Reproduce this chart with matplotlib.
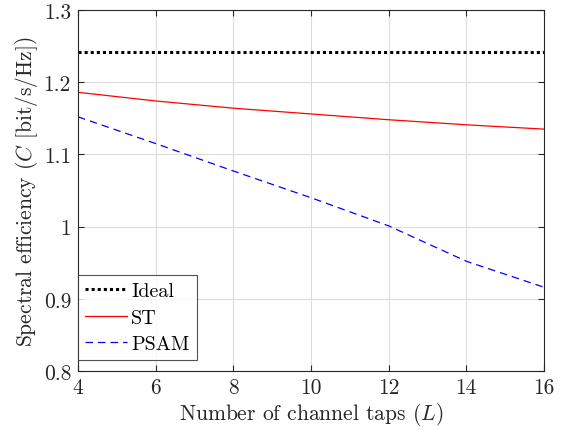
import matplotlib
matplotlib.use("Agg")
import matplotlib.pyplot as plt
from matplotlib.ticker import FuncFormatter

plt.rcParams['font.family'] = 'serif'
plt.rcParams['font.serif'] = ['cmr10', 'DejaVu Serif']
plt.rcParams['mathtext.fontset'] = 'cm'
plt.rcParams['axes.unicode_minus'] = False

L = [4, 6, 8, 10, 12, 14, 16]
ideal = [1.242, 1.242, 1.242, 1.242, 1.242, 1.242, 1.242]
st = [1.186, 1.174, 1.164, 1.156, 1.148, 1.141, 1.135]
psam = [1.152, 1.115, 1.077, 1.040, 1.001, 0.952, 0.916]

xticks = [4, 6, 8, 10, 12, 14, 16]
yticks = [0.8, 0.9, 1.0, 1.1, 1.2, 1.3]

fig = plt.figure(figsize=(5.68, 4.31), dpi=100)
ax = fig.add_axes([0.1373, 0.1369, 0.8204, 0.8376])

ax.plot(L, ideal, color='black', linestyle=(0, (1, 1)), linewidth=2.2, label='Ideal')
ax.plot(L, st, color='red', linestyle='-', linewidth=0.9, label='ST')
ax.plot(L, psam, color='blue', linestyle=(0, (6, 4)), linewidth=0.9, label='PSAM')

ax.set_xlim(4, 16)
ax.set_ylim(0.8, 1.3)
ax.set_xticks(xticks)
ax.set_yticks(yticks)
ax.yaxis.set_major_formatter(FuncFormatter(lambda v, p: f"{v:g}"))
ax.grid(True, color='#dcdcdc', linewidth=0.8)
ax.set_axisbelow(True)

for s in ax.spines.values():
    s.set_color('#262626')
    s.set_linewidth(0.8)
ax.tick_params(direction='in', top=True, right=True, colors='#262626',
               labelsize=15.5, length=4, width=0.8, pad=5)
for t in ax.get_xticklabels() + ax.get_yticklabels():
    t.set_color('#262626')

ax.set_xlabel('Number of channel taps ($L$)', fontsize=15.5, color='#262626', labelpad=2)
ax.set_ylabel('Spectral efficiency ($C$ [bit/s/Hz])', fontsize=15.5, color='#262626', labelpad=3)

leg = ax.legend(loc='lower left', bbox_to_anchor=(0.0, 0.03), fontsize=14.5,
                frameon=True, fancybox=False,
                edgecolor='#262626', handlelength=2.1, handletextpad=0.2,
                borderaxespad=0.0, borderpad=0.35, labelspacing=0.42)
leg.get_frame().set_linewidth(0.8)

fig.savefig('out.png', dpi=100)
